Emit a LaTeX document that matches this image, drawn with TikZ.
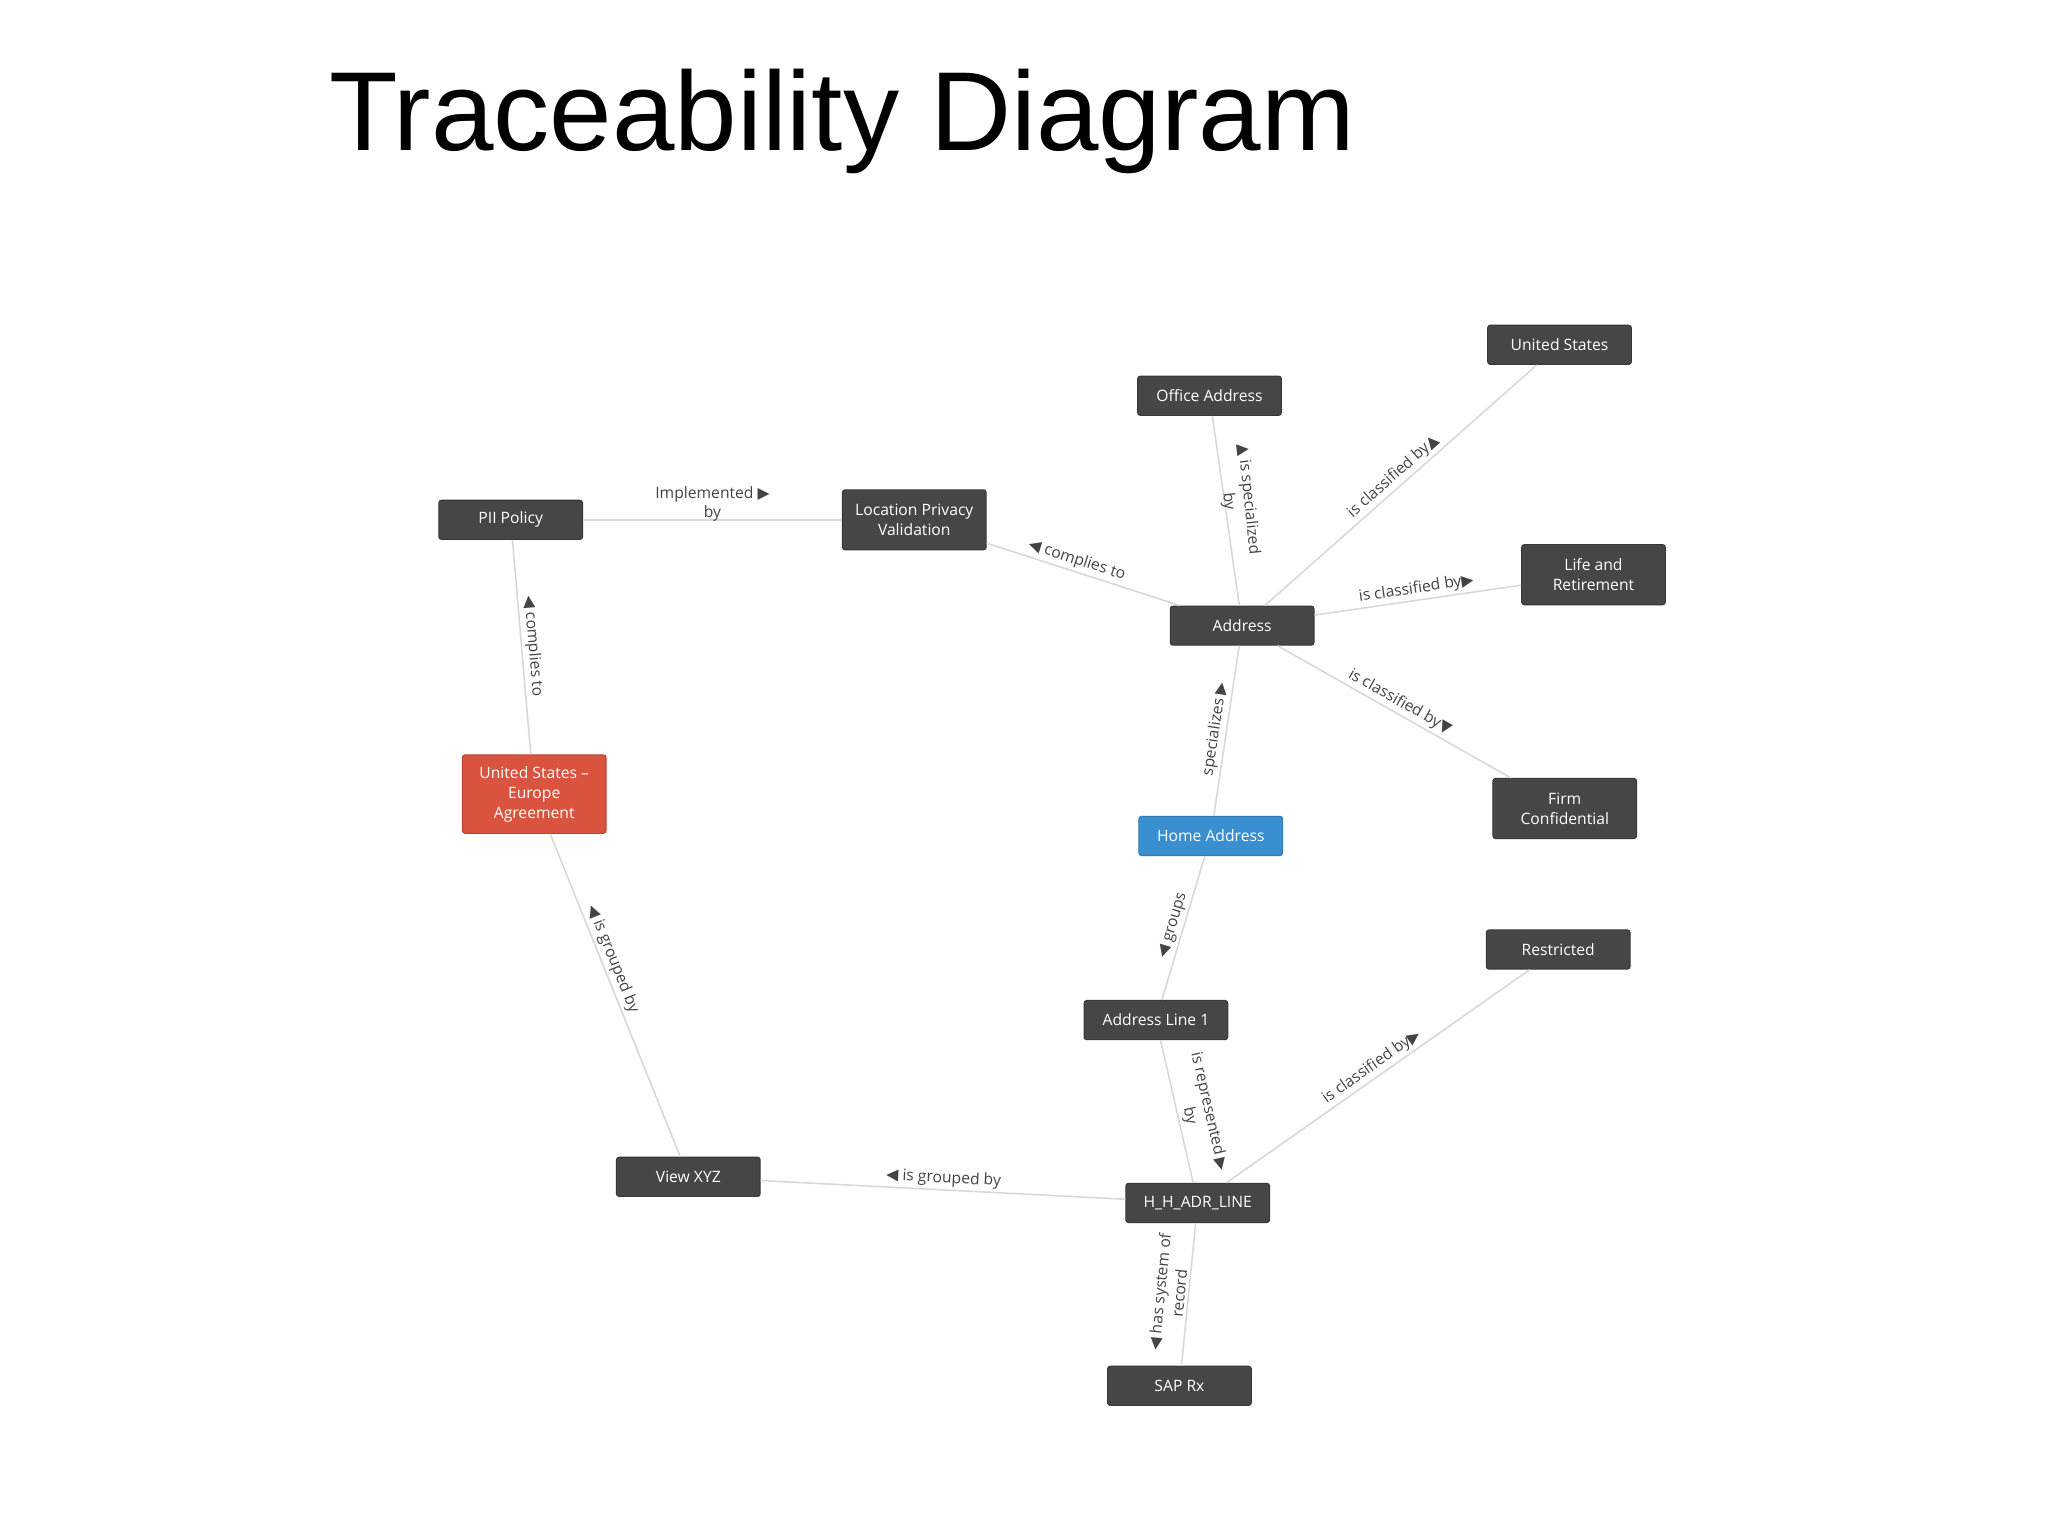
\documentclass[tikz,border=0pt]{standalone}
\usepackage{fontspec}
\setmainfont{Open Sans}
\newfontfamily\titlefont{Liberation Sans}
\newfontfamily\symfont{DejaVu Sans}
\newcommand{\ra}{{\symfont\char"25B6}}
\newcommand{\la}{{\symfont\char"25C0}}
\newcommand{\ua}{{\symfont\char"25B2}}
\newcommand{\da}{{\symfont\char"25BC}}
\definecolor{boxgray}{HTML}{464646}
\definecolor{boxred}{HTML}{D9533E}
\definecolor{boxblue}{HTML}{3A8FD0}
\definecolor{edgegray}{HTML}{D8D8D8}
\definecolor{lblgray}{HTML}{444444}
\tikzset{
 box/.style={fill=boxgray,draw=boxgray!80!black,rounded corners=1pt,text=white,font=\fontsize{6}{7.6}\selectfont,minimum width=55pt,minimum height=15pt,align=center,inner sep=1pt},
 tall/.style={minimum height=23pt},
 edge/.style={draw=edgegray,line width=0.6pt},
 lbl/.style={font=\fontsize{6}{7.6}\selectfont,text=lblgray,sloped,align=center,inner sep=1pt}
}
\begin{document}
\begin{tikzpicture}[x=0.5pt,y=-0.5pt]
\useasboundingbox[fill=white] (0,0) rectangle (1568,1176);
\node[anchor=west,font=\titlefont\fontsize{43}{48}\selectfont] (title) at (245,93) {Traceability Diagram};
\node[box] (pii) at (391,398) {PII Policy};
\node[box,tall] (lpv) at (700,398) {Location Privacy\\Validation};
\node[box] (office) at (926,303) {Office Address};
\node[box] (us) at (1194,264) {United States};
\node[box,tall] (life) at (1220,440) {Life and\\Retirement};
\node[box] (addr) at (951,479) {Address};
\node[box,tall] (firm) at (1198,619) {Firm\\Confidential};
\node[box,fill=boxblue,draw=boxblue!85!black] (home) at (927,640) {Home Address};
\node[box,fill=boxred,draw=boxred!85!black,minimum height=30pt] (usea) at (409,608) {United States –\\Europe\\Agreement};
\node[box] (restr) at (1193,727) {Restricted};
\node[box] (al1) at (885,781) {Address Line 1};
\node[box] (view) at (527,901) {View XYZ};
\node[box] (hh) at (917,921) {H\_H\_ADR\_LINE};
\node[box] (sap) at (903,1061) {SAP Rx};
\draw[edge] (pii) -- node[lbl,above=-2pt,pos=0.5] {Implemented \ra\\by} (lpv);
\draw[edge] (lpv) -- node[lbl,above,pos=0.45] {\la\ complies to} (addr);
\draw[edge] (addr) -- (office);
\node[lbl,sloped=false,rotate=-84] (offlbl) at (948,383) {\ua\ is specialized\\by};
\draw[edge] (addr) -- node[lbl,above,pos=0.5] {is classified by\ua} (us);
\draw[edge] (addr) -- node[lbl,above,pos=0.5] {is classified by\ra} (life);
\draw[edge] (addr) -- node[lbl,above,pos=0.5] {is classified by\da} (firm);
\draw[edge] (home) -- node[lbl,above,pos=0.5] {specializes\ \ra} (addr);
\draw[edge] (home) -- node[lbl,above,pos=0.5] {\la\ groups} (al1);
\draw[edge] (pii) -- node[lbl,above,pos=0.5] {\la\ complies to} (usea);
\draw[edge] (usea) -- node[lbl,above,pos=0.4] {\la\ is grouped by} (view);
\draw[edge] (view) -- node[lbl,above,pos=0.5] {\la\ is grouped by} (hh);
\draw[edge] (al1) -- node[lbl,above,pos=0.55] {is represented \ra\\by} (hh);
\draw[edge] (hh) -- node[lbl,above,pos=0.5] {is classified by\ra} (restr);
\draw[edge] (hh) -- node[lbl,above,pos=0.5] {\la\ has system of\\record} (sap);
\end{tikzpicture}
\end{document}
